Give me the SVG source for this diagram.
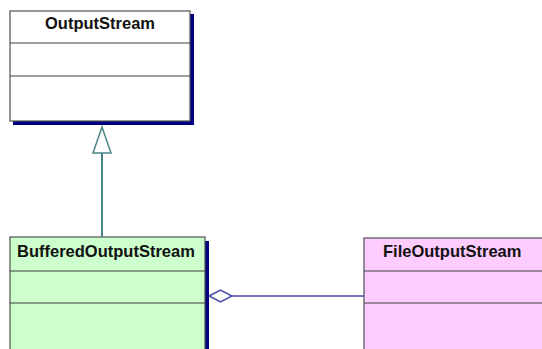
<svg xmlns="http://www.w3.org/2000/svg" width="542" height="349" viewBox="0 0 542 349">
<style>
.box{stroke:#505050;stroke-width:1.2}
.div{stroke:#404040;stroke-width:1.2}
.shadow{fill:#000080}
.t{font-family:"Liberation Sans",Arial,sans-serif;font-weight:bold;font-size:16.5px;fill:#111}
</style>
<rect width="542" height="349" fill="#ffffff"/>
<g id="OutputStream">
<rect class="shadow" x="13" y="14" width="181" height="111"/>
<rect class="box" x="10" y="11" width="180" height="110" fill="#ffffff"/>
<line class="div" x1="10" y1="43" x2="190" y2="43"/>
<line class="div" x1="10" y1="76" x2="190" y2="76"/>
<text class="t" x="100" y="29" text-anchor="middle">OutputStream</text>
</g>
<g id="BufferedOutputStream">
<rect class="shadow" x="13" y="241" width="196" height="120"/>
<rect class="box" x="10" y="237" width="195" height="120" fill="#ccffcc"/>
<line class="div" x1="10" y1="271" x2="205" y2="271"/>
<line class="div" x1="10" y1="303" x2="205" y2="303"/>
<text class="t" x="17" y="257">BufferedOutputStream</text>
</g>
<g id="FileOutputStream">
<rect class="box" x="364" y="238" width="190" height="120" fill="#ffccff"/>
<line class="div" x1="364" y1="271" x2="542" y2="271"/>
<line class="div" x1="364" y1="303" x2="542" y2="303"/>
<text class="t" x="383" y="257">FileOutputStream</text>
</g>
<g id="connectors">
<line x1="102" y1="153" x2="102" y2="237" stroke="#4a8585" stroke-width="2"/>
<polygon points="102,127 93,153 111,153" fill="#ffffff" stroke="#4a8585" stroke-width="1.5"/>
<line x1="232" y1="296" x2="364" y2="296" stroke="#4848a8" stroke-width="1.5"/>
<polygon points="209,296 220.5,290 232,296 220.5,302" fill="#ffffff" stroke="#4848a8" stroke-width="1.5"/>
</g>
</svg>
